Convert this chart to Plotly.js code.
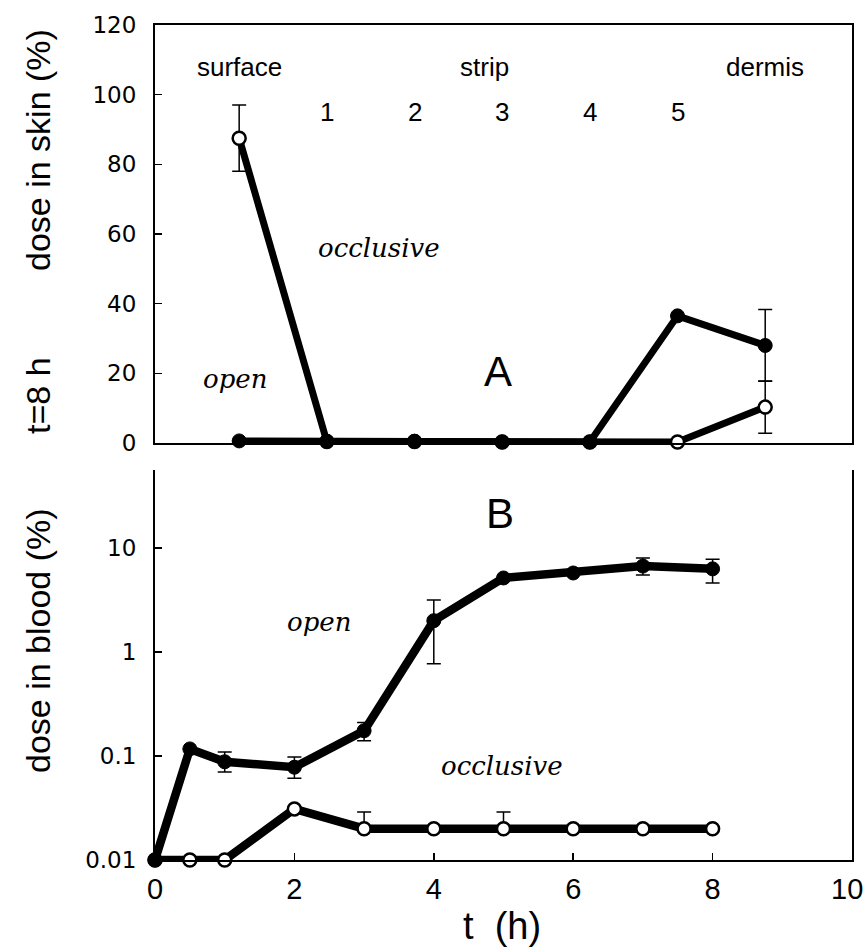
<!DOCTYPE html>
<html>
<head>
<meta charset="utf-8">
<script src="https://cdn.plot.ly/plotly-3.0.1.min.js"></script>
<style>html,body{margin:0;padding:0;background:#fff;}#chart{width:866px;height:949px;}</style>
</head>
<body>
<div id="chart"></div>
<script>
// ---- Panel A: skin distribution at t = 8 h ----
const skinLayers = ['surface', 'strip 1', 'strip 2', 'strip 3', 'strip 4', 'strip 5', 'dermis'];
const skinOcclusive = [87.5, 0.4, 0.4, 0.3, 0.3, 0.3, 10.3];
const skinOcclusiveErr = [9.5, 0, 0, 0, 0, 0, 7.5];
const skinOpen = [0.6, 0.5, 0.5, 0.3, 0.3, 36.5, 28];
const skinOpenErr = [0, 0, 0, 0, 0, 0, 10.3];
const skinTicks = [0, 20, 40, 60, 80, 100, 120];

// ---- Panel B: dose in blood vs time ----
const hours = [0, 0.5, 1, 2, 3, 4, 5, 6, 7, 8];
const bloodOpen = [0.01, 0.117, 0.088, 0.078, 0.175, 2.0, 5.15, 5.75, 6.7, 6.3];
const bloodOpenErrPlus = [0, 0, 0.021, 0.02, 0.035, 1.16, 0, 0, 1.3, 1.5];
const bloodOpenErrMinus = [0, 0, 0.018, 0.017, 0.035, 1.23, 0, 0, 1.2, 1.7];
const bloodOcclusive = [0.01, 0.01, 0.01, 0.031, 0.02, 0.02, 0.02, 0.02, 0.02, 0.02];
const bloodOcclusiveErrPlus = [0, 0, 0, 0, 0.009, 0, 0.009, 0, 0, 0];
const bloodTickVals = [0.01, 0.1, 1, 10];
const bloodTickText = ['0.01', '0.1', '1', '10'];
const hourTicks = [0, 2, 4, 6, 8, 10];
const hourTickText = ['0', '2', '4', '6', '8', '10'];

const BLACK = '#000';
const LW = 8.5;
const filledMarker = {symbol: 'circle', size: 14, color: BLACK, line: {color: BLACK, width: 1}};
const hollowMarker = {symbol: 'circle', size: 13, color: '#fff', line: {color: BLACK, width: 2.5}};
const errStyle = {color: BLACK, thickness: 1.5, width: 7};

const zeroArr = a => a.map(() => 0);

const traces = [
  {x: skinLayers, y: skinOcclusive, xaxis: 'x', yaxis: 'y', type: 'scatter', mode: 'lines+markers',
   name: 'occlusive', line: {color: BLACK, width: LW - 1.5}, marker: hollowMarker, cliponaxis: false,
   error_y: Object.assign({type: 'data', array: skinOcclusiveErr, visible: true}, errStyle)},
  {x: skinLayers, y: skinOpen, xaxis: 'x', yaxis: 'y', type: 'scatter', mode: 'lines+markers',
   name: 'open', line: {color: BLACK, width: LW - 1.5}, marker: filledMarker, cliponaxis: false,
   error_y: Object.assign({type: 'data', array: skinOpenErr, visible: true}, errStyle)},
  {x: hours, y: bloodOcclusive, xaxis: 'x2', yaxis: 'y2', type: 'scatter', mode: 'lines+markers',
   name: 'occlusive', line: {color: BLACK, width: LW}, marker: hollowMarker, cliponaxis: false,
   error_y: Object.assign({type: 'data', symmetric: false, array: bloodOcclusiveErrPlus,
     arrayminus: zeroArr(bloodOcclusiveErrPlus), visible: true}, errStyle)},
  {x: hours, y: bloodOpen, xaxis: 'x2', yaxis: 'y2', type: 'scatter', mode: 'lines+markers',
   name: 'open', line: {color: BLACK, width: LW}, marker: filledMarker, cliponaxis: false,
   error_y: Object.assign({type: 'data', symmetric: false, array: bloodOpenErrPlus,
     arrayminus: bloodOpenErrMinus, visible: true}, errStyle)}
];

// pixel helpers for paper coordinates (plot area: x 155..852, y 25..860)
const PL = 155, PR = 852, PT = 25, PB = 860;
const px = x => (x - PL) / (PR - PL);
const py = y => (PB - y) / (PB - PT);

const tickFontY = {family: 'DejaVu Sans', size: 23, color: BLACK};
const tickFontX = {family: 'Liberation Sans Narrow, Liberation Sans', size: 29, color: BLACK};
const labelFont = {family: 'Liberation Sans', size: 26, color: BLACK};
const italicFont = {family: 'DejaVu Serif', size: 26, color: BLACK, style: 'italic'};
const bigLetter = {family: 'Liberation Sans', size: 42, color: BLACK};
const titleFont = {family: 'Liberation Sans', size: 34, color: BLACK};

const C = {showarrow: false, xanchor: 'center', yanchor: 'middle'};
const ann = o => Object.assign({}, C, o);

const annotations = [];
// layer headers
const stripIdx = skinLayers.map((s, i) => s.startsWith('strip') ? i : -1).filter(i => i >= 0);
annotations.push(ann({xref: 'x', yref: 'y', x: 0, y: 108, text: skinLayers[0], font: labelFont}));
annotations.push(ann({xref: 'x', yref: 'y', x: (stripIdx[0] + stripIdx[stripIdx.length - 1]) / 2 - 0.2, y: 108,
  text: 'strip', font: labelFont}));
annotations.push(ann({xref: 'x', yref: 'y', x: skinLayers.length - 1, y: 108,
  text: skinLayers[skinLayers.length - 1], font: labelFont}));
stripIdx.forEach(i => annotations.push(ann({xref: 'x', yref: 'y', x: i, y: 95,
  text: skinLayers[i].replace('strip ', ''), font: labelFont})));
// series labels
annotations.push(ann({xref: 'x', yref: 'y', x: 1.6, y: 56, text: 'occlusive', font: italicFont}));
annotations.push(ann({xref: 'x', yref: 'y', x: -0.05, y: 18.5, text: 'open', font: italicFont}));
annotations.push(ann({xref: 'x', yref: 'y', x: 2.95, y: 20.5, text: 'A', font: bigLetter}));
annotations.push(ann({xref: 'x2', yref: 'y2', x: 2.35, y: 0.29, text: 'open', font: italicFont}));
annotations.push(ann({xref: 'x2', yref: 'y2', x: 4.98, y: -1.1, text: 'occlusive', font: italicFont}));
annotations.push(ann({xref: 'x2', yref: 'y2', x: 4.95, y: 1.33, text: 'B', font: bigLetter}));
// last x tick label sits at the page edge: draw it right-aligned so it stays inside
const lastHour = hourTicks[hourTicks.length - 1];
annotations.push(ann({xref: 'x2', yref: 'paper', x: lastHour, y: py(889), xanchor: 'right', xshift: 13,
  text: hourTickText[hourTickText.length - 1], font: tickFontX}));
// axis titles
annotations.push(ann({xref: 'paper', yref: 'paper', x: px(38), y: py(150), text: 'dose in skin (%)',
  textangle: -90, font: titleFont}));
annotations.push(ann({xref: 'paper', yref: 'paper', x: px(38), y: py(395), text: 't=8 h',
  textangle: -90, font: titleFont}));
annotations.push(ann({xref: 'paper', yref: 'paper', x: px(38), y: py(640), text: 'dose in blood (%)',
  textangle: -90, font: titleFont}));
annotations.push(ann({xref: 'paper', yref: 'paper', x: px(502), y: py(926), text: 't  (h)',
  font: {family: 'Liberation Sans', size: 38, color: BLACK}}));

const layout = {
  width: 866, height: 949,
  margin: {l: PL, r: 866 - PR, t: PT, b: 949 - PB, autoexpand: false},
  paper_bgcolor: '#fff', plot_bgcolor: '#fff',
  showlegend: false,
  xaxis: {domain: [0, 1], anchor: 'y', type: 'category', range: [-0.96, 6.99],
    showticklabels: false, ticks: '', showgrid: false, zeroline: false,
    showline: true, mirror: true, linecolor: BLACK, linewidth: 2},
  yaxis: {domain: [py(443), 1], anchor: 'x', range: [0, 120], tickvals: skinTicks,
    ticks: 'inside', ticklen: 7, tickwidth: 1.5, tickcolor: BLACK, tickfont: tickFontY,
    ticklabelstandoff: 12, ticklabeloverflow: 'allow', showgrid: false, zeroline: false,
    showline: true, mirror: true, linecolor: BLACK, linewidth: 2},
  xaxis2: {domain: [0, 1], anchor: 'y2', range: [0, 10], tickvals: hourTicks,
    ticktext: hourTickText.map((t, i) => i === hourTickText.length - 1 ? '' : t),
    ticks: 'inside', ticklen: 7, tickwidth: 1.5, tickcolor: BLACK, tickfont: tickFontX,
    ticklabelstandoff: 2, ticklabeloverflow: 'allow', showgrid: false, zeroline: false,
    showline: true, mirror: false, linecolor: BLACK, linewidth: 2},
  yaxis2: {domain: [0, py(470)], anchor: 'x2', type: 'log', range: [-2, 1.75],
    tickvals: bloodTickVals, ticktext: bloodTickText,
    ticks: 'inside', ticklen: 7, tickwidth: 1.5, tickcolor: BLACK, tickfont: tickFontY,
    ticklabelstandoff: 12, ticklabeloverflow: 'allow', showgrid: false, zeroline: false,
    showline: true, mirror: true, linecolor: BLACK, linewidth: 2},
  annotations: annotations
};

Plotly.newPlot('chart', traces, layout, {displayModeBar: false, staticPlot: true});
</script>
</body>
</html>
